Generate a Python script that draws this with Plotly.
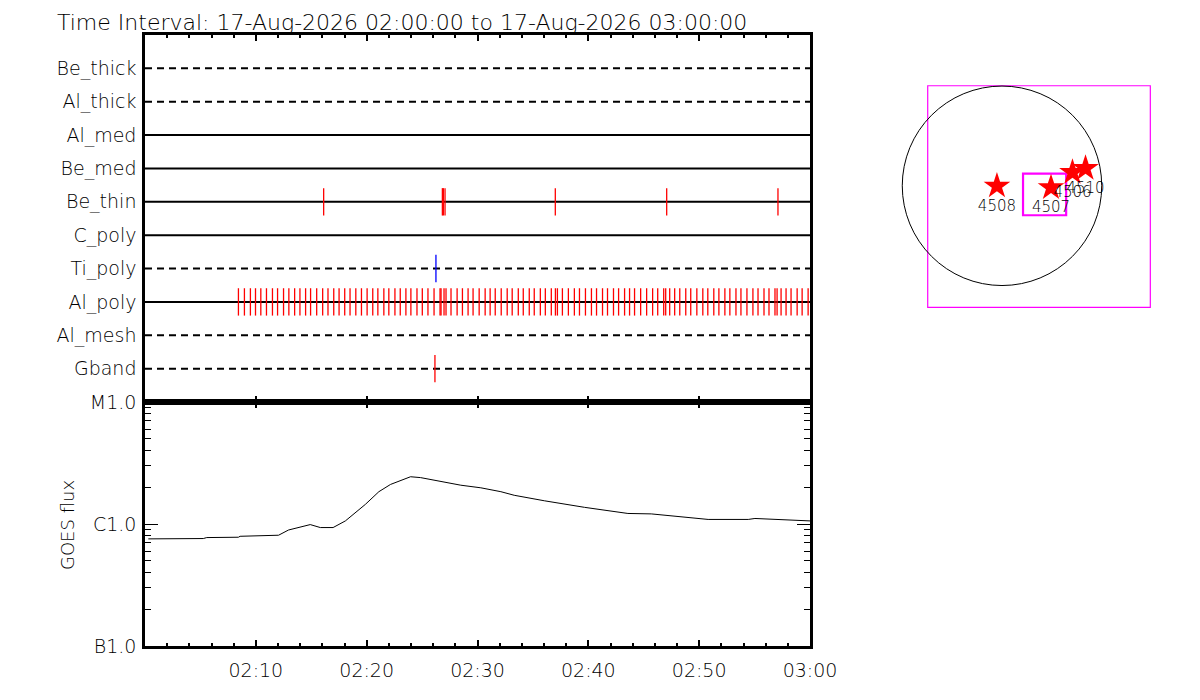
import pandas as pd
import plotly.graph_objects as go

# ---------------- data ----------------
base_time = pd.Timestamp("2026-08-17 02:00:00")
t_start = "2026-08-17 02:00:00"
t_end = "2026-08-17 03:00:00"
title_text = "Time Interval: 17-Aug-2026 02:00:00 to 17-Aug-2026 03:00:00"

rows = ["Be_thick", "Al_thick", "Al_med", "Be_med", "Be_thin",
        "C_poly", "Ti_poly", "Al_poly", "Al_mesh", "Gband"]
row_dashed = [True, True, False, False, False, False, True, False, True, True]

# event times, minutes after 02:00
be_thin_min = [16.12, 26.83, 26.92, 27.07, 37.02, 47.07, 57.11]
ti_poly_min = [26.25]
gband_min = [26.16]
al_poly_min = [
    8.43, 8.97, 9.51, 9.97, 10.45, 10.96, 11.50, 11.96, 12.50, 12.98,
    13.50, 13.98, 14.49, 14.94, 15.49, 16.03, 16.51, 17.03, 17.51, 18.02,
    18.50, 19.02, 19.53, 20.04, 20.55, 21.01, 21.55, 22.00, 22.55, 23.03,
    23.54, 23.99, 24.54, 25.02, 25.53, 26.08, 26.62, 26.71, 26.98, 27.16,
    27.61, 28.16, 28.64, 29.15, 29.60, 30.15, 30.69, 31.14, 31.60, 32.14,
    32.68, 33.13, 33.68, 34.13, 34.67, 35.12, 35.67, 36.12, 36.66, 37.03,
    37.21, 37.66, 38.20, 38.74, 39.20, 39.74, 40.28, 40.74, 41.28, 41.73,
    42.27, 42.73, 43.27, 43.72, 44.17, 44.72, 45.26, 45.80, 46.26, 46.80,
    46.98, 47.34, 47.79, 48.25, 48.79, 49.24, 49.79, 50.33, 50.78, 51.32,
    51.78, 52.32, 52.77, 53.32, 53.77, 54.31, 54.85, 55.31, 55.85, 56.30,
    56.84, 57.03, 57.39, 57.84, 58.29, 58.84, 59.29, 59.83,
]

# GOES flux curve
goes_min = [0.3, 5.26, 5.57, 8.43, 8.58, 12.05, 12.95, 14.91, 15.82, 16.97,
            18.08, 19.89, 21.10, 22.15, 23.96, 24.87, 28.49, 30.30, 32.11,
            33.31, 36.03, 39.65, 43.57, 45.68, 50.81, 54.43, 55.03, 58.96, 60.0]
goes_flux = [7.55e-7, 7.60e-7, 7.74e-7, 7.79e-7, 7.93e-7, 8.09e-7, 8.93e-7,
             9.89e-7, 9.35e-7, 9.35e-7, 1.06e-6, 1.45e-6, 1.84e-6, 2.11e-6,
             2.44e-6, 2.40e-6, 2.08e-6, 1.98e-6, 1.84e-6, 1.72e-6, 1.55e-6,
             1.37e-6, 1.22e-6, 1.21e-6, 1.09e-6, 1.09e-6, 1.11e-6, 1.07e-6,
             1.06e-6]
goes_tickvals = [1e-7, 1e-6, 1e-5]
goes_ticktext = ["B1.0", "C1.0", "M1.0"]

# Map: active regions (arcsec)
ar_names = ["4508", "4507", "4506", "4510"]
ar_x = [-48, 466, 670, 794]
ar_y = [-2, -18, 128, 166]
sun_radius = 948
fov_x = [200, 610]          # small field-of-view box
fov_y = [-280, 115]
frame_x = [-706, 1410]      # outer map frame
frame_y = [-1155, 951]
map_xrange = [-1017, 1502]
map_yrange = [-1228, 1053]

# ---------------- helpers ----------------
def to_time(mins):
    return [base_time + pd.Timedelta(minutes=m) for m in mins]

W, H = 1200, 700
OFF = 8  # page body margin offset
def px_x(p):
    return (p - OFF) / W
def px_y(p):
    return 1 - (p - OFF) / H

FAM = "DejaVu Sans"
WT = 200
def fnt(size):
    return dict(family=FAM, size=size, color="black", weight=WT)

fig = go.Figure()

# ----- top panel: rows -----
for i, (name, dashed) in enumerate(zip(rows, row_dashed)):
    yv = i + 1
    fig.add_trace(go.Scatter(
        x=[t_start, t_end], y=[yv, yv], mode="lines",
        line=dict(color="black", width=2, dash="7px,5px" if dashed else "solid"),
        xaxis="x", yaxis="y", hoverinfo="skip", showlegend=False))

def mark_trace(mins, row_name, color):
    yv = rows.index(row_name) + 1
    xs, ys = [], []
    for t in to_time(mins):
        xs += [t, t, None]
        ys += [yv - 0.41, yv + 0.41, None]
    return go.Scatter(x=xs, y=ys, mode="lines", line=dict(color=color, width=1.3),
                      xaxis="x", yaxis="y", hoverinfo="skip", showlegend=False)

fig.add_trace(mark_trace(be_thin_min, "Be_thin", "red"))
fig.add_trace(mark_trace(al_poly_min, "Al_poly", "red"))
fig.add_trace(mark_trace(ti_poly_min, "Ti_poly", "blue"))
fig.add_trace(mark_trace(gband_min, "Gband", "red"))

# ----- bottom panel: GOES -----
fig.add_trace(go.Scatter(x=to_time(goes_min), y=goes_flux, mode="lines",
                         line=dict(color="black", width=1),
                         xaxis="x2", yaxis="y2", hoverinfo="skip", showlegend=False))

# ----- map -----
fig.add_trace(go.Scatter(x=ar_x, y=ar_y, mode="markers+text", text=ar_names,
                         textposition="bottom center",
                         textfont=fnt(15),
                         marker=dict(symbol="star", size=20, color="red",
                                     line=dict(width=0)),
                         xaxis="x3", yaxis="y3", hoverinfo="skip", showlegend=False,
                         cliponaxis=False))

# time ticks
major_ticks = pd.date_range(t_start, t_end, freq="10min")
minor_ticks = pd.date_range(t_start, t_end, freq="2min")
major_text = [""] + [t.strftime("%H:%M") for t in major_ticks[1:]]
log_minor = [k * 1e-7 for k in range(2, 10)] + [k * 1e-6 for k in range(2, 10)]

x_dom = [px_x(145), px_x(810)]
common_x = dict(type="date", range=[t_start, t_end], domain=x_dom,
                automargin=False,
                showgrid=False, zeroline=False, showline=True, linecolor="black",
                linewidth=2.5, mirror="ticks", ticks="inside", ticklen=6,
                tickwidth=2, tickcolor="black",
                tickmode="array", tickvals=list(major_ticks),
                minor=dict(tickmode="array", tickvals=list(minor_ticks),
                           ticks="inside", ticklen=3, tickwidth=2,
                           tickcolor="black", showgrid=False))

fig.update_layout(
    width=W, height=H,
    margin=dict(l=0, r=0, t=0, b=0, pad=0, autoexpand=False),
    paper_bgcolor="white", plot_bgcolor="white", showlegend=False,
    font=fnt(19),
    xaxis=dict(**common_x, anchor="y", showticklabels=False),
    yaxis=dict(domain=[px_y(402), px_y(35)], range=[11, 0], anchor="x",
               automargin=False,
               showgrid=False, zeroline=False, showline=True, linecolor="black",
               linewidth=2.5, mirror=True, ticks="", tickmode="array",
               tickvals=list(range(1, len(rows) + 1)), ticktext=rows,
               ticklabelstandoff=2, tickfont=fnt(19)),
    xaxis2=dict(**common_x, anchor="y2", showticklabels=True,
                ticktext=major_text, tickfont=fnt(19),
                ticklabelstandoff=5),
    yaxis2=dict(domain=[px_y(646), px_y(402)], type="log", range=[-7, -5],
                anchor="x2", automargin=False,
                showgrid=False, zeroline=False, showline=True,
                linecolor="black", linewidth=2.5, mirror="ticks",
                ticks="inside", ticklen=13, tickwidth=1, tickcolor="black",
                tickmode="array", tickvals=goes_tickvals, ticktext=goes_ticktext,
                tickfont=fnt(19), ticklabelstandoff=2,
                minor=dict(tickmode="array", tickvals=log_minor, ticks="inside",
                           ticklen=6, tickwidth=1, tickcolor="black",
                           showgrid=False)),
    xaxis3=dict(domain=[px_x(895), px_x(1160)], range=map_xrange,
                anchor="y3", automargin=False, visible=False),
    yaxis3=dict(domain=[px_y(315), px_y(75)], range=map_yrange,
                anchor="x3", automargin=False, visible=False),
    shapes=[
        dict(type="rect", xref="x3", yref="y3", x0=frame_x[0], x1=frame_x[1],
             y0=frame_y[0], y1=frame_y[1], line=dict(color="magenta", width=1.2),
             layer="below"),
        dict(type="circle", xref="x3", yref="y3", x0=-sun_radius, x1=sun_radius,
             y0=-sun_radius, y1=sun_radius, line=dict(color="black", width=1),
             layer="below"),
        dict(type="rect", xref="x3", yref="y3", x0=fov_x[0], x1=fov_x[1],
             y0=fov_y[0], y1=fov_y[1], line=dict(color="magenta", width=2.2),
             layer="below"),
    ],
    annotations=[
        dict(text=title_text, xref="paper", yref="paper", x=px_x(55), y=px_y(8),
             xanchor="left", yanchor="top", showarrow=False,
             font=fnt(22)),
        dict(text="GOES flux", xref="paper", yref="paper", x=px_x(67), y=px_y(525),
             xanchor="center", yanchor="middle", showarrow=False, textangle=-90,
             font=fnt(18)),
    ],
)

fig.write_html("out.html")
